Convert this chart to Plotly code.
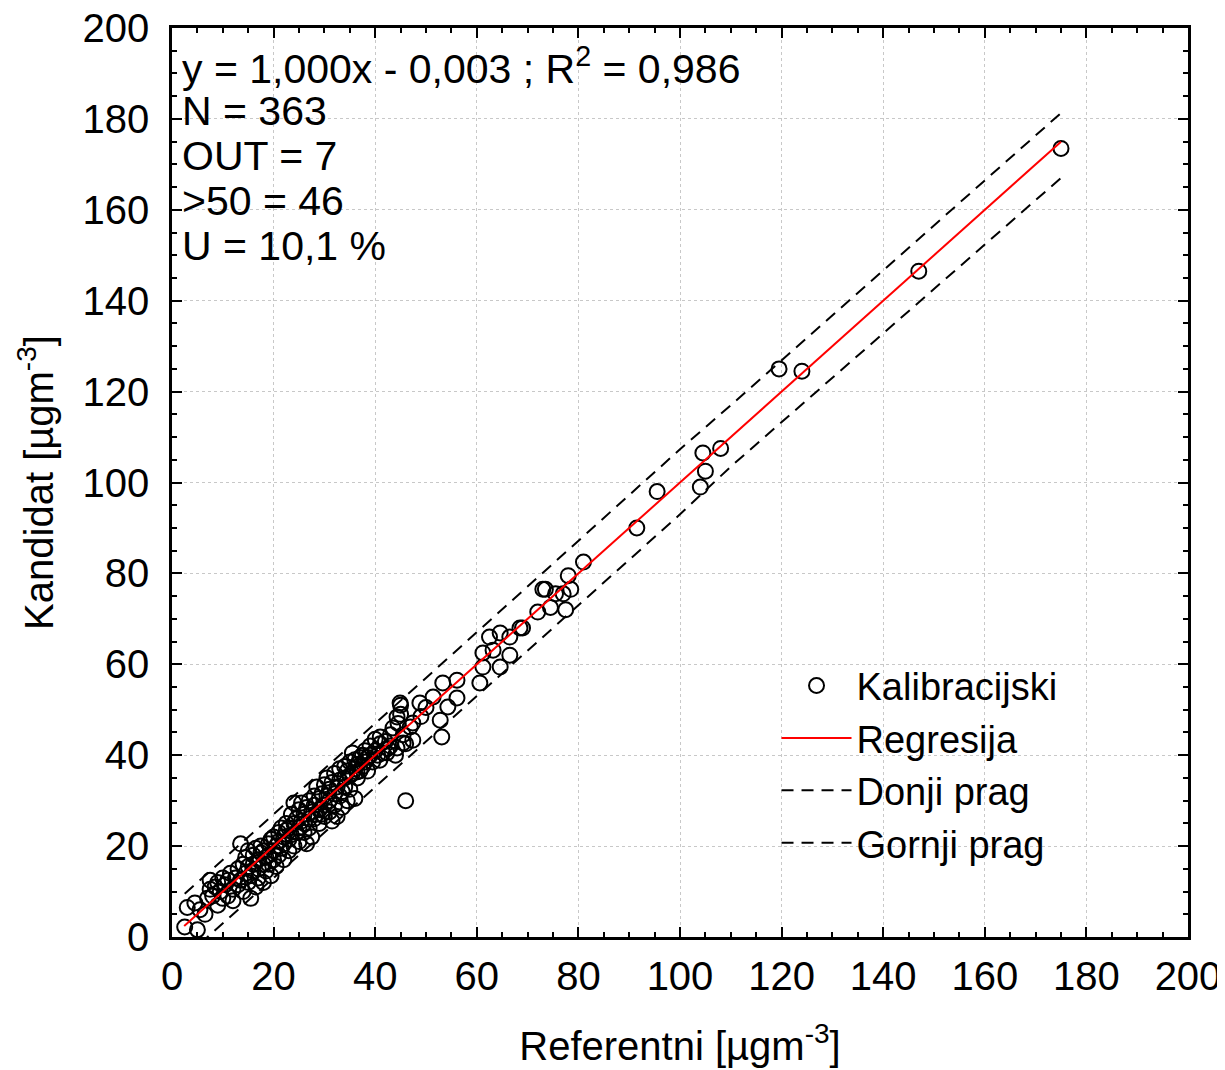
# -*- coding: utf-8 -*-
"""
Kalibracijski dijagram: kandidat vs referentni (µg/m3), regresija i pragovi.
"""

import plotly.graph_objects as go

# ==============================================================================
# PODACI (očitano sa slike)
# ==============================================================================
REF_X = [
    2.5, 3, 4.5, 5, 5.5, 6.5, 7, 7.5, 7.5, 8,
    8.5, 9, 9, 9.5, 10, 10, 10.5, 11, 11, 11.5,
    12, 12, 12.5, 13, 13, 13.5, 13.5, 14, 14, 14.5,
    14.5, 15, 15, 15, 15.5, 15.5, 16, 16, 16, 16.5,
    16.5, 17, 17, 17, 17.5, 17.5, 18, 18, 18, 18.5,
    18.5, 19, 19, 19, 19.5, 19.5, 20, 20, 20, 20.5,
    20.5, 21, 21, 21, 21.5, 21.5, 22, 22, 22, 22.5,
    22.5, 23, 23, 23, 23.5, 23.5, 24, 24, 24, 24.5,
    24.5, 25, 25, 25, 25.5, 25.5, 26, 26, 26, 26.5,
    26.5, 27, 27, 27, 27.5, 27.5, 28, 28, 28, 28.5,
    28.5, 29, 29, 29, 29.5, 29.5, 30, 30, 30, 30.5,
    30.5, 31, 31, 31, 31.5, 31.5, 32, 32, 32, 32.5,
    32.5, 33, 33, 33, 33.5, 33.5, 34, 34, 34, 34.5,
    34.5, 35, 35, 35, 35.5, 35.5, 36, 36, 36, 36.5,
    36.5, 37, 37, 37.5, 37.5, 38, 38, 38.5, 38.5, 39,
    39, 39.5, 40, 40, 40.5, 41, 41, 41.5, 42, 42.5,
    43, 43, 43.5, 44, 44.5, 45, 45, 45.5, 46, 36.4,
    44.9, 48.8, 44.3, 46.9, 47.4, 45.5, 44.3, 42.3, 40.9, 46,
    47.4, 51.4, 52.8, 53.1, 54.3, 53.3, 56.1, 56.1, 50, 49,
    60.6, 61.2, 61.2, 63.2, 64.6, 66.5, 66.5, 64.6, 68.5, 62.5,
    69, 72, 73, 73.5, 74.5, 75.5, 77, 77.5, 78, 78.5,
    81, 91.5, 95.5, 104, 104.5, 105, 108, 119.5, 124, 147,
    175,
]
KAND_Y = [
    2.2, 6.5, 7.5, 1.6, 6, 5, 8.5, 10.5, 12.5, 9,
    11, 7, 12, 10, 13, 8.5, 11.5, 12.5, 9, 14,
    10.5, 8, 13, 11.5, 15, 20.5, 12.5, 16, 10, 14,
    17.5, 12, 15.5, 19, 13.5, 8.5, 16, 18, 14.5, 11,
    19.5, 17, 13, 15, 18.5, 20, 16, 12, 19, 14.5,
    17.5, 20.5, 16, 18, 21.5, 13.5, 19, 17, 22, 15.5,
    20, 23, 18, 21, 19.5, 24, 22, 17, 20.5, 23.5,
    25, 21.5, 19, 24, 27, 22.5, 29.5, 25, 20, 23,
    26, 24, 28, 21, 25.5, 29.5, 27, 23, 25, 28.5,
    20.5, 26, 30, 24, 27.5, 22, 29, 31, 26, 27,
    33, 28, 30.5, 25, 31.5, 27, 29, 33.5, 26.5, 31,
    35, 30, 32.5, 27.5, 34, 25.5, 31.5, 36, 29, 33,
    26.5, 34.5, 31, 37, 32, 28.5, 35, 33, 37.5, 30,
    36.5, 35.5, 38.5, 32.5, 40.5, 36, 37, 30.5, 39, 35,
    38, 39.5, 36.5, 37.5, 40, 41, 38.5, 36.5, 39.5, 42,
    40, 38.5, 41, 43.5, 40, 42.5, 44, 40.5, 43, 41.5,
    44.5, 42, 46, 40, 47, 49, 51, 44.5, 42.5, 36.3,
    51.5, 51.5, 48.4, 46.2, 43.3, 42.7, 41.6, 40.5, 38.9, 30,
    47.1, 52.8, 47.7, 44, 50.6, 55.9, 56.5, 52.6, 50.5, 48.5,
    55.9, 59.4, 62.5, 63.1, 66.9, 66, 62, 59.4, 68, 66,
    68, 71.5, 76.5, 76.5, 72.5, 75.5, 75.5, 72, 79.5, 76.5,
    82.5, 90, 98, 99, 106.5, 102.5, 107.5, 125, 124.5, 146.5,
    173.5,
]

REG_X = [2.4, 175]
REG_Y = [2.397, 174.997]

PRAG_X = [2.5, 50, 100, 110, 175]
DONJI_Y = [-4.5, 43, 93, 103.5, 167]
GORNJI_Y = [9.5, 57, 107.3, 117, 181.3]

TEKST = [
    "y = 1,000x - 0,003 ; R<sup>2</sup> = 0,986",
    "N = 363",
    "OUT = 7",
    ">50 = 46",
    "U = 10,1 %",
]

FONT = "Liberation Sans, Arial, sans-serif"
COR_REG = "#FF0000"
COR_GRID = "#C8C8C8"


# ==============================================================================
# HELPERS
# ==============================================================================
def eixo(titulo: str, standoff: int, lbl_standoff: int) -> dict:
    return dict(
        title=dict(text=titulo, font=dict(size=40), standoff=standoff),
        range=[0, 200],
        dtick=20,
        tick0=0,
        ticks="inside",
        ticklen=10,
        tickwidth=2,
        tickcolor="black",
        ticklabelstandoff=lbl_standoff,
        ticklabeloverflow="allow",
        minor=dict(ticks="inside", dtick=5, ticklen=5, tickwidth=1.5, tickcolor="black", showgrid=False),
        showline=True,
        linecolor="black",
        linewidth=2.5,
        mirror="ticks",
        showgrid=True,
        gridcolor=COR_GRID,
        griddash="dot",
        gridwidth=1,
        zeroline=False,
        automargin=False,
        tickfont=dict(size=40),
    )


def main():
    fig = go.Figure()

    fig.add_trace(go.Scatter(
        x=REF_X, y=KAND_Y,
        mode="markers",
        name="Kalibracijski",
        marker=dict(symbol="circle-open", size=15, color="black", line=dict(width=2)),
    ))
    fig.add_trace(go.Scatter(
        x=REG_X, y=REG_Y,
        mode="lines",
        name="Regresija",
        line=dict(color=COR_REG, width=2),
    ))
    fig.add_trace(go.Scatter(
        x=PRAG_X, y=DONJI_Y,
        mode="lines",
        name="Donji prag",
        line=dict(color="black", width=2, dash="12px,8px"),
    ))
    fig.add_trace(go.Scatter(
        x=PRAG_X, y=GORNJI_Y,
        mode="lines",
        name="Gornji prag",
        line=dict(color="black", width=2, dash="12px,8px"),
    ))

    for i, t in enumerate(TEKST):
        fig.add_annotation(
            text=t, xref="paper", yref="paper",
            x=0.008, y=0.958 - i * 0.0495,
            xanchor="left", yanchor="middle",
            showarrow=False, font=dict(size=41, color="black"),
        )

    # a página tem margem de 8 px no body: compensado nas margens
    fig.update_layout(
        width=1225,
        height=1070,
        template="plotly_white",
        plot_bgcolor="white",
        paper_bgcolor="white",
        font=dict(family=FONT, color="black", size=40),
        margin=dict(l=164, r=45, t=20, b=141),
        xaxis=eixo("Referentni [µgm<sup>-3</sup>]", 36, 2),
        yaxis=eixo("Kandidat [µgm<sup>-3</sup>]", 17, 12),
        legend=dict(
            x=0.595, y=0.311, xanchor="left", yanchor="top",
            bgcolor="rgba(0,0,0,0)",
            font=dict(size=38),
            itemwidth=70,
            tracegroupgap=0,
        ),
    )

    fig.write_html("out.html")


if __name__ == "__main__":
    main()
